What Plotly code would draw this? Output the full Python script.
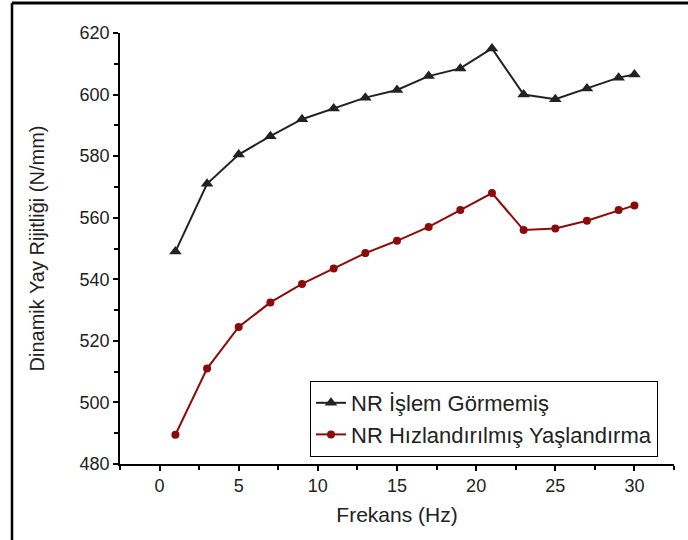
import plotly.graph_objects as go

freq = [1, 3, 5, 7, 9, 11, 13, 15, 17, 19, 21, 23, 25, 27, 29, 30]
untreated = [549, 571, 580.5, 586.5, 592, 595.5, 599, 601.5, 606, 608.5, 615, 600, 598.5, 602, 605.5, 606.5]
aged = [489.5, 511, 524.5, 532.5, 538.5, 543.5, 548.5, 552.5, 557, 562.5, 568, 556, 556.5, 559, 562.5, 564]
names = ["NR İşlem Görmemiş", "NR Hızlandırılmış Yaşlandırma"]

fig = go.Figure()
fig.add_trace(go.Scatter(x=freq, y=untreated, mode="lines+markers", name=names[0],
                         line=dict(color="#222222", width=2),
                         marker=dict(symbol="triangle-up", size=11, color="#222222")))
fig.add_trace(go.Scatter(x=freq, y=aged, mode="lines+markers", name=names[1],
                         line=dict(color="#8b0a0a", width=2),
                         marker=dict(symbol="circle", size=8, color="#8b0a0a")))

W, H = 688, 540
L, R, T, B = 120, 14, 33, 76
pw = W - L - R
ph = H - T - B

FONT = "Liberation Sans, Arial"
axis_common = dict(showline=True, linecolor="black", linewidth=1.5, ticks="outside",
                   ticklen=5, tickwidth=1.5, tickcolor="black", showgrid=False, zeroline=False,
                   tickfont=dict(family=FONT, size=18, color="#222"),
                   mirror=False)

fig.update_layout(
    width=W, height=H,
    margin=dict(l=L, r=R, t=T, b=B),
    plot_bgcolor="white", paper_bgcolor="white",
    font=dict(family=FONT, color="#222"),
    xaxis=dict(range=[-2.5, 32.5], tickvals=[0, 5, 10, 15, 20, 25, 30],
               minor=dict(tickvals=[-2.5, 2.5, 7.5, 12.5, 17.5, 22.5, 27.5, 32.5], ticks="outside",
                          ticklen=4, tickwidth=1.5, tickcolor="black"),
               title=dict(text="Frekans (Hz)", font=dict(size=21, color="#222"), standoff=12),
               **axis_common),
    yaxis=dict(range=[480, 620], tickvals=[480, 500, 520, 540, 560, 580, 600, 620],
               minor=dict(tickvals=[490, 510, 530, 550, 570, 590, 610], ticks="outside",
                          ticklen=4, tickwidth=1.5, tickcolor="black"),
               title=dict(text="Dinamik Yay Rijitliği (N/mm)", font=dict(size=20, color="#222"), standoff=30),
               **axis_common),
    legend=dict(x=(310 - L) / pw, y=(464 - 381) / ph, xanchor="left", yanchor="top",
                bgcolor="white", bordercolor="black", borderwidth=1,
                font=dict(size=22, color="#222"), tracegroupgap=0),
    showlegend=True,
)

# outer frame (top and left visible)
fig.add_shape(type="line", xref="paper", yref="paper",
              x0=(12 - L) / pw, x1=(W + 5 - L) / pw, y0=(H - B - 3) / ph, y1=(H - B - 3) / ph,
              line=dict(color="black", width=3))
fig.add_shape(type="line", xref="paper", yref="paper",
              x0=(12 - L) / pw, x1=(12 - L) / pw, y0=(H - B - 3) / ph, y1=(H - B - H - 5) / ph,
              line=dict(color="black", width=2.5))

fig.write_html("out.html")
